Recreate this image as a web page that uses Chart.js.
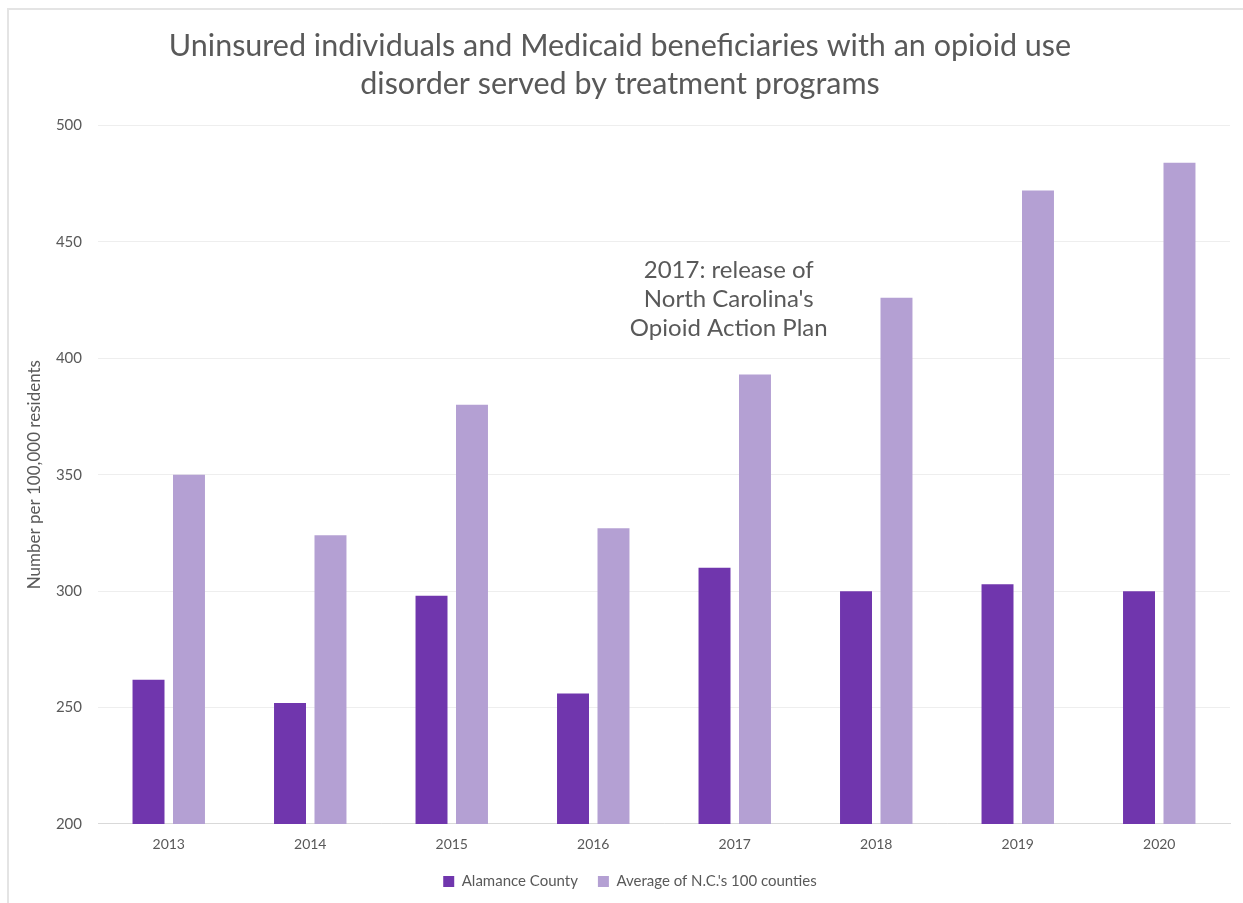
<!DOCTYPE html>
<html>
<head>
<meta charset="utf-8">
<script src="https://cdn.jsdelivr.net/npm/chart.js@4/dist/chart.umd.min.js"></script>
<style>
  html, body { margin: 0; padding: 0; background: #fff; }
  #wrap { position: relative; width: 1243px; height: 903px; overflow: hidden; }
  #frame { position: absolute; left: 7px; top: 8px; width: 1300px; height: 1000px;
           border-left: 2px solid #e4e4e4; border-top: 2px solid #e4e4e4; }
  canvas { position: absolute; left: 0; top: 0; }
</style>
</head>
<body>
<div id="wrap">
  <div id="frame"></div>
  <canvas id="chart" width="1243" height="903"></canvas>
</div>
<script>
// years and rates per 100,000 residents
const years = ['2013', '2014', '2015', '2016', '2017', '2018', '2019', '2020'];
const alamance = [262, 252, 298, 256, 310, 300, 303, 300];
const ncAverage = [350, 324, 380, 327, 393, 426, 472, 484];

const seriesLabels = ['Alamance County', "Average of N.C.'s 100 counties"];
const titleLines = ['Uninsured individuals and Medicaid beneficiaries with an opioid use',
                    'disorder served by treatment programs'];
const noteLines = ['2017: release of', "North Carolina's", 'Opioid Action Plan'];

const textColor = '#595959';
const fontFamily = 'Lato, "Open Sans", sans-serif';

// note about the 2017 plan, placed above the 2017 bars
const notePlugin = {
    id: 'note',
    afterDraw: (chart) => {
        const ctx = chart.ctx;
        const x = chart.scales.x.getPixelForValue(4) - 6;
        const y = chart.scales.y.getPixelForValue(438);
        ctx.save();
        ctx.font = '24px ' + fontFamily;
        ctx.fillStyle = textColor;
        ctx.textAlign = 'center';
        ctx.textBaseline = 'middle';
        noteLines.forEach((line, i) => ctx.fillText(line, x, y + i * 29));
        ctx.restore();
    }
};

// nudge the legend a little to the right
const legendShift = {
    id: 'legendShift',
    afterLayout: (chart) => {
        chart.legend.left += 10;
        chart.legend.right += 10;
    }
};

new Chart(document.getElementById('chart'), {
    type: 'bar',
    data: {
        labels: years,
        datasets: [
            {
                label: seriesLabels[0],
                data: alamance,
                backgroundColor: '#7036ad',
                categoryPercentage: 0.572,
                barPercentage: 0.79,
            },
            {
                label: seriesLabels[1],
                data: ncAverage,
                backgroundColor: '#b4a0d3',
                categoryPercentage: 0.572,
                barPercentage: 0.79,
            },
        ],
    },
    options: {
        responsive: false,
        animation: false,
        layout: { padding: { left: 10, right: 13, top: 10, bottom: 4 } },
        plugins: {
            title: {
                display: true,
                text: titleLines,
                color: textColor,
                font: { family: fontFamily, size: 30.5, weight: 'normal', lineHeight: 1.22 },
                padding: { top: 18, bottom: 23 },
            },
            legend: {
                position: 'bottom',
                labels: {
                    color: textColor,
                    font: { family: fontFamily, size: 15 },
                    boxWidth: 11,
                    boxHeight: 11,
                    padding: 20,
                },
            },
            tooltip: { enabled: false },
        },
        scales: {
            x: {
                grid: { display: false },
                border: { color: '#d9d9d9', width: 1 },
                ticks: { color: textColor, font: { family: fontFamily, size: 14 }, padding: 4 },
                afterFit: (scale) => { scale.height = 30; },
            },
            y: {
                min: 200,
                max: 500,
                ticks: { stepSize: 50, color: textColor, font: { family: fontFamily, size: 15 }, padding: 16 },
                grid: { color: '#eeeeee', drawTicks: false },
                border: { display: false },
                title: {
                    display: true,
                    text: 'Number per 100,000 residents',
                    color: textColor,
                    font: { family: fontFamily, size: 17 },
                    padding: { top: 14, bottom: 0 },
                },
                afterFit: (scale) => { scale.width = 88; },
            },
        },
    },
    plugins: [notePlugin, legendShift],
});
</script>
</body>
</html>
